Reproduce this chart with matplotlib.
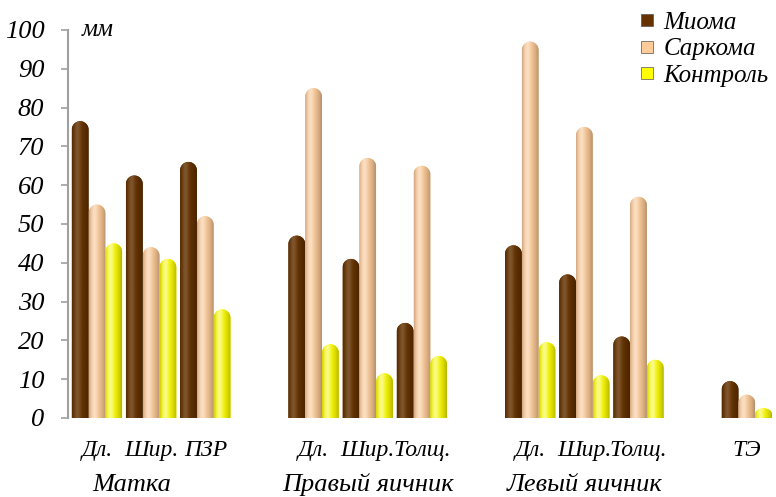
import numpy as np
import matplotlib.pyplot as plt
from matplotlib.path import Path
from matplotlib.patches import PathPatch
from matplotlib.lines import Line2D
from matplotlib.colors import to_rgb
from matplotlib.font_manager import FontProperties

plt.rcParams['font.family'] = 'Liberation Serif'
plt.rcParams['font.style'] = 'italic'


def fp(size):
    return FontProperties(family='Liberation Serif', style='italic', size=size)


# данные
sub_labels = ['Дл.', 'Шир.', 'ПЗР', 'Дл.', 'Шир.', 'Толщ.', 'Дл.', 'Шир.', 'Толщ.', 'ТЭ']
slots = [0, 1, 2, 4, 5, 6, 8, 9, 10, 12]
groups = ['Матка', 'Правый яичник', 'Левый яичник']
group_pos = [0.65, 5, 9]

mioma = [76.5, 62.5, 66, 47, 41, 24.5, 44.5, 37, 21, 9.5]
sarkoma = [55, 44, 52, 85, 67, 65, 97, 75, 57, 6]
kontrol = [45, 41, 28, 19, 11.5, 16, 19.5, 11, 15, 2.5]

series = [('Миома', mioma, '#663300', 0.18),
          ('Саркома', sarkoma, '#FFCC99', 0.45),
          ('Контроль', kontrol, '#FFFF00', 0.55)]


def gradient(base, amp, n=64):
    t = np.linspace(0, 1, n)
    c = np.array(to_rgb(base))
    hi = amp * np.exp(-((t - 0.32) / 0.2) ** 2)
    dark = 0.3 * t ** 3 + 0.2 * (1 - t) ** 8
    col = (c[None, :] + (1 - c[None, :]) * hi[:, None]) * (1 - dark[:, None])
    return np.clip(col, 0, 1)[None, :, :]


fig = plt.figure(figsize=(7.76, 4.97), dpi=100)
ax = fig.add_axes([68 / 776, 79 / 497, 707 / 776, 388 / 497])
ax.set_xlim(-0.535, 12.52)
ax.set_ylim(0, 100)

w = 0.31
x = np.array(slots, dtype=float)

# вертикальный радиус скругления в единицах данных
px_x = ax.transData.transform((w / 2, 0))[0] - ax.transData.transform((0, 0))[0]
px_y = ax.transData.transform((0, 1))[1] - ax.transData.transform((0, 0))[1]
r_full = px_x / px_y

for i, (name, vals, color, amp) in enumerate(series):
    bars = ax.bar(x + (i - 1) * w, vals, w, color=color)
    img = gradient(color, amp)
    for b in bars:
        x0, bw, h = b.get_x(), b.get_width(), b.get_height()
        b.set_visible(False)
        r = min(r_full, h * 0.6)
        th = np.linspace(0, np.pi, 40)
        xs = x0 + bw / 2 + bw / 2 * np.cos(th)
        ys = h - r + r * np.sin(th)
        verts = [(x0, 0), (x0 + bw, 0)] + list(zip(xs, ys)) + [(x0, 0)]
        codes = [Path.MOVETO] + [Path.LINETO] * (len(verts) - 2) + [Path.CLOSEPOLY]
        patch = PathPatch(Path(verts, codes), fc=color, ec='none', zorder=2)
        ax.add_patch(patch)
        im = ax.imshow(img, extent=(x0, x0 + bw, 0, h), aspect='auto',
                       interpolation='bicubic', zorder=3)
        im.set_clip_path(patch)

ax.set_xlim(-0.535, 12.52)
ax.set_ylim(0, 100)

for s in ['top', 'right', 'bottom']:
    ax.spines[s].set_visible(False)
ax.spines['left'].set_color('#A0A0A0')
ax.spines['left'].set_linewidth(1.5)
ax.set_yticks(range(0, 101, 10))
ax.set_yticklabels([str(v) for v in range(0, 101, 10)], fontproperties=fp(19))
ax.tick_params(axis='y', colors='#A0A0A0', length=5, width=1.2, pad=12,
               labelcolor='black')

ax.set_xticks(x)
ax.set_xticklabels(sub_labels, fontproperties=fp(17))
ax.tick_params(axis='x', length=0, pad=16)

for g, p in zip(groups, group_pos):
    ax.text(p, -0.172, g, transform=ax.get_xaxis_transform(), ha='center',
            va='center', fontproperties=fp(19))

ax.text(-0.28, 100, 'мм', ha='left', va='center', fontproperties=fp(18))

handles = [Line2D([], [], marker='s', ls='none', mfc=c, mec='#555555', mew=0.5, ms=9)
           for _, _, c, _ in series]
fig.legend(handles, [s[0] for s in series], loc='upper left',
           bbox_to_anchor=(626 / 776, 1 + 1 / 497), frameon=False, prop=fp(18),
           handlelength=0.7, handletextpad=0.3, labelspacing=0.15, borderpad=0)

fig.savefig('out.png', dpi=100)
